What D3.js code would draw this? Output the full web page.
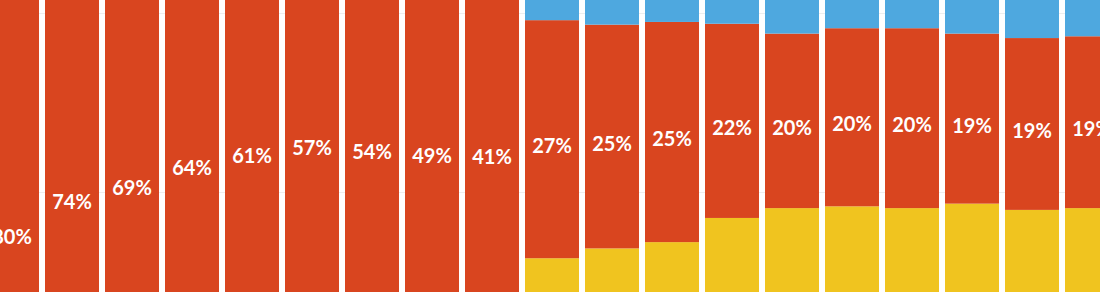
<!DOCTYPE html>
<html>
<head>
<meta charset="utf-8">
<script src="https://cdn.jsdelivr.net/npm/d3@7"></script>
<style>
  html, body { margin: 0; padding: 0; background: #fff; }
  #chart { width: 1100px; height: 292px; overflow: hidden; }
</style>
</head>
<body>
<div id="chart"></div>
<script>
// periods shown (the view is a crop of a taller chart, no axis labels visible)
const periods = d3.range(1, 20).map((i) => 'P' + i);

// share in % below the red segment (yellow)
const yellowValues = [15.8, 22.7, 26.7, 31.5, 34.3, 37.2, 38.2, 40.3, 44.2,
  52.6, 53.7, 54.4, 57.1, 58.2, 58.4, 58.2, 58.7, 58.0, 58.2];
// red share in %, labelled
const redValues = [80, 74, 69, 64, 61, 57, 54, 49, 41,
  26.6, 25.0, 24.6, 21.7, 19.5, 19.9, 20.1, 19.0, 19.2, 19.2];
// share above the red segment (blue)
const blueValues = [4.2, 3.3, 4.3, 4.5, 4.7, 5.8, 7.8, 10.7, 14.8,
  20.8, 21.3, 21.0, 21.2, 22.3, 21.7, 21.7, 22.3, 22.8, 22.6];

const gridTicks = [0, 20, 40, 60, 80, 100];

const colors = { yellow: '#f0c41f', red: '#d9451f', blue: '#4ea8df' };

const width = 1100;
const height = 292;

const data = periods.map((p, i) => ({
  period: p,
  yellow: yellowValues[i],
  red: redValues[i],
  blue: blueValues[i],
}));

const keys = ['yellow', 'red', 'blue'];
const series = d3.stack().keys(keys)(data);

const svg = d3
  .select('#chart')
  .append('svg')
  .attr('width', width)
  .attr('height', height);

// Scales (the plot is taller than the window, so the range runs off both edges)
const x = d3
  .scaleBand()
  .domain(periods)
  .range([-18, -18 + 60 * periods.length])
  .paddingInner(0.1)
  .paddingOuter(0.05);

const y = d3.scaleLinear().domain([0, 100]).range([729, -166]);

// Gridlines
svg
  .append('g')
  .call(d3.axisLeft(y).tickValues(gridTicks).tickSize(-width).tickFormat(''))
  .call((g) => g.select('.domain').remove())
  .call((g) => g.selectAll('line').attr('stroke', '#eeeeee'));

// Bars
svg
  .append('g')
  .selectAll('g')
  .data(series)
  .join('g')
  .attr('fill', (s) => colors[s.key])
  .selectAll('rect')
  .data((s) => s)
  .join('rect')
  .attr('x', (d) => x(d.data.period))
  .attr('width', x.bandwidth())
  .attr('y', (d) => y(d[1]))
  .attr('height', (d) => y(d[0]) - y(d[1]));

// Labels on the red segment
const redSeries = series.find((s) => s.key === 'red');
svg
  .append('g')
  .selectAll('text')
  .data(redSeries)
  .join('text')
  .attr('x', (d) => x(d.data.period) + x.bandwidth() / 2)
  .attr('y', (d) => (y(d[0]) + y(d[1])) / 2)
  .attr('dy', '0.7em')
  .attr('text-anchor', 'middle')
  .attr('fill', '#fff')
  .style('font-family', 'Lato, sans-serif')
  .style('font-weight', 700)
  .style('font-size', '20px')
  .text((d) => Math.round(d.data.red) + '%');
</script>
</body>
</html>
